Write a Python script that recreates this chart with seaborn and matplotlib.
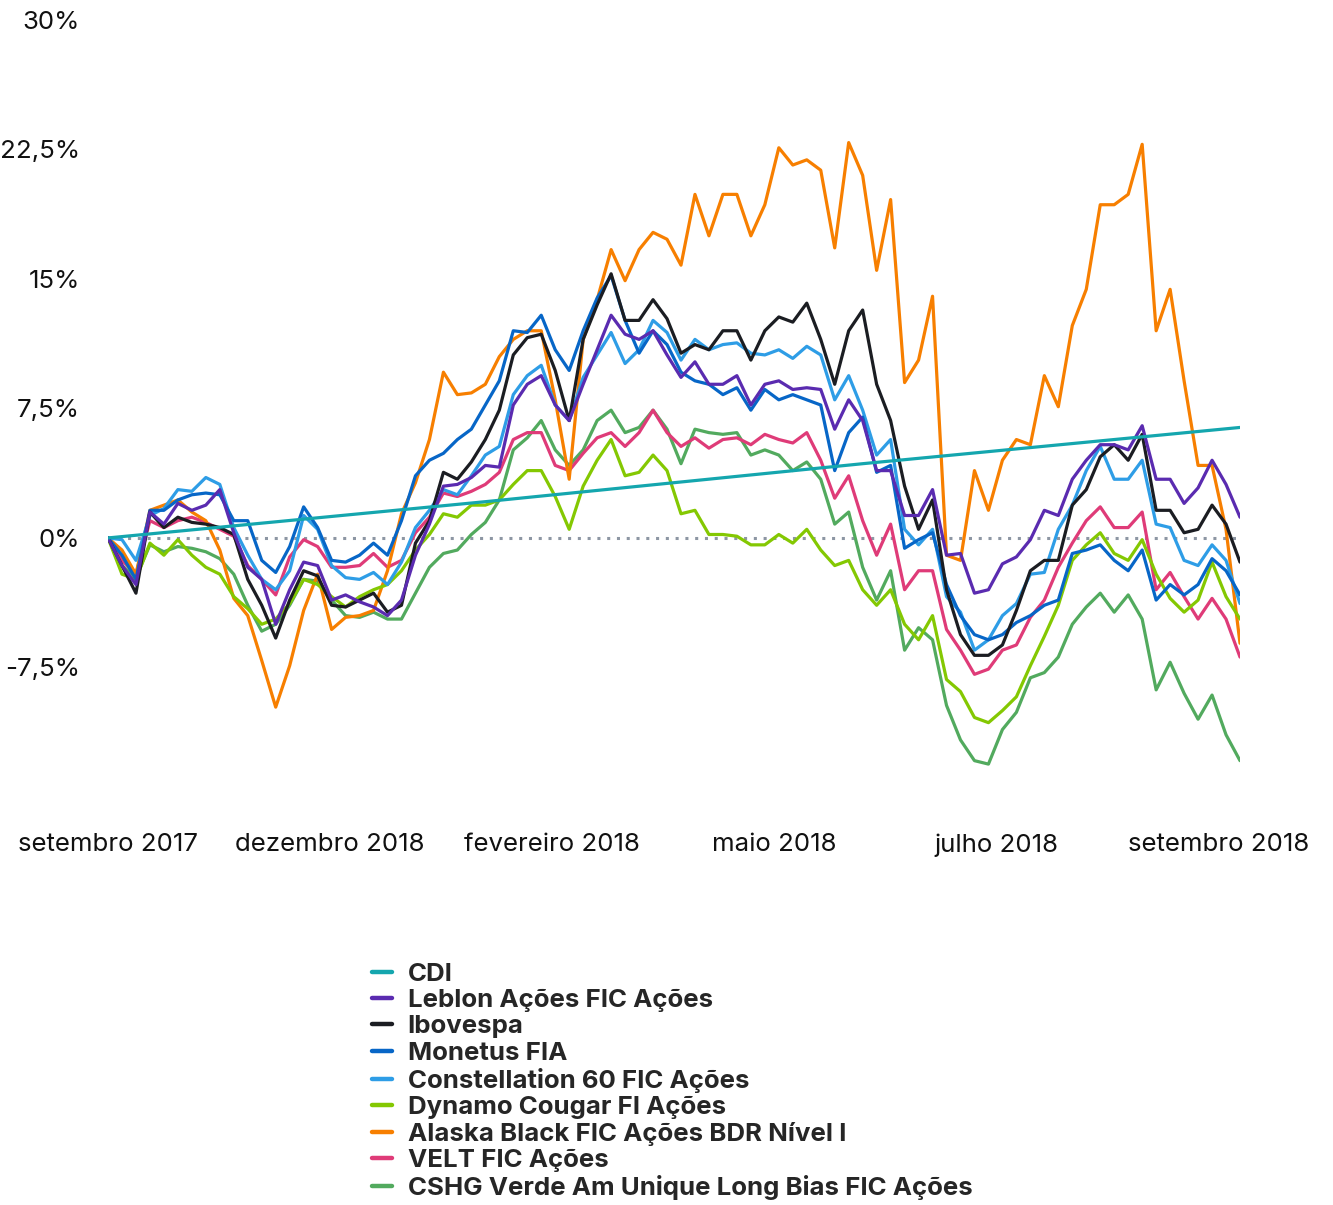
import numpy as np
import pandas as pd
import seaborn as sns
from matplotlib import pyplot as plt
from matplotlib.lines import Line2D

sns.set_theme(style='white')
plt.rcParams['font.family'] = ['Inter', 'DejaVu Sans']

# retorno acumulado (%), um ponto a cada ~3 pregões, set/2017 -> set/2018
leblon = [0.0, -1.6, -2.7, 1.5, 0.8, 2.0, 1.6, 1.9, 2.8, 0.3,
          -1.7, -2.4, -5.0, -3.0, -1.4, -1.6, -3.6, -3.3, -3.7, -4.0,
          -4.5, -3.6, -1.0, 0.8, 3.0, 3.1, 3.5, 4.2, 4.1, 7.7,
          8.9, 9.4, 7.7, 6.8, 8.9, 10.9, 12.9, 11.8, 11.5, 12.0,
          10.6, 9.3, 10.2, 8.9, 8.9, 9.4, 7.7, 8.9, 9.1, 8.6,
          8.7, 8.6, 6.3, 8.0, 6.8, 3.9, 3.9, 1.3, 1.3, 2.8,
          -1.0, -0.9, -3.2, -3.0, -1.5, -1.1, -0.1, 1.6, 1.3, 3.4,
          4.5, 5.4, 5.4, 5.1, 6.5, 3.4, 3.4, 2.0, 2.9, 4.5,
          3.1, 1.2]
ibovespa = [0.0, -1.6, -3.2, 1.5, 0.6, 1.2, 0.9, 0.8, 0.6, 0.2,
            -2.4, -3.9, -5.8, -3.6, -1.9, -2.2, -3.9, -4.0, -3.6, -3.2,
            -4.3, -3.9, -0.3, 1.0, 3.8, 3.4, 4.4, 5.7, 7.4, 10.6,
            11.6, 11.8, 9.7, 6.8, 11.5, 13.5, 15.3, 12.6, 12.6, 13.8,
            12.7, 10.7, 11.2, 10.9, 12.0, 12.0, 10.3, 12.0, 12.8, 12.5,
            13.6, 11.5, 8.9, 12.0, 13.2, 8.9, 6.8, 3.0, 0.5, 2.2,
            -3.0, -5.6, -6.8, -6.8, -6.2, -4.2, -1.9, -1.3, -1.3, 1.9,
            2.8, 4.7, 5.4, 4.5, 6.0, 1.6, 1.6, 0.3, 0.5, 1.9,
            0.8, -1.4]
monetus = [0.0, -1.0, -2.4, 1.6, 1.6, 2.2, 2.5, 2.6, 2.5, 1.0,
           1.0, -1.3, -2.0, -0.5, 1.8, 0.6, -1.3, -1.4, -1.0, -0.3,
           -1.0, 1.0, 3.6, 4.5, 4.9, 5.7, 6.3, 7.7, 9.1, 12.0,
           11.9, 12.9, 10.9, 9.7, 12.0, 13.9, 15.2, 12.6, 10.7, 12.0,
           11.2, 9.6, 9.1, 8.9, 8.3, 8.7, 7.4, 8.6, 8.0, 8.3,
           8.0, 7.7, 3.9, 6.1, 7.0, 3.8, 4.2, -0.6, -0.1, 0.3,
           -2.7, -4.5, -5.6, -5.9, -5.6, -4.9, -4.5, -3.9, -3.6, -0.9,
           -0.7, -0.4, -1.3, -1.9, -0.7, -3.6, -2.7, -3.3, -2.7, -1.2,
           -1.9, -3.3]
constellation = [0.0, -0.1, -1.3, 1.3, 1.7, 2.8, 2.7, 3.5, 3.1, 0.6,
                 -1.0, -2.4, -3.0, -1.9, 1.3, 0.5, -1.6, -2.3, -2.4, -2.0,
                 -2.7, -1.4, 0.6, 1.6, 2.8, 2.5, 3.6, 4.8, 5.3, 8.3,
                 9.4, 10.0, 7.7, 6.8, 9.3, 10.6, 11.9, 10.1, 10.9, 12.6,
                 11.9, 10.3, 11.5, 10.9, 11.2, 11.3, 10.7, 10.6, 10.9, 10.4,
                 11.1, 10.6, 8.0, 9.4, 7.4, 4.8, 5.7, 0.5, -0.4, 0.5,
                 -3.4, -4.3, -6.5, -5.9, -4.5, -3.8, -2.1, -2.0, 0.5, 1.9,
                 3.9, 5.3, 3.4, 3.4, 4.5, 0.8, 0.6, -1.3, -1.6, -0.4,
                 -1.3, -3.8]
dynamo = [0.0, -2.1, -2.4, -0.3, -1.0, -0.1, -1.0, -1.7, -2.1, -3.4,
          -4.1, -5.0, -4.7, -3.8, -2.4, -2.7, -3.4, -4.0, -3.4, -3.0,
          -2.7, -1.9, -0.7, 0.2, 1.4, 1.2, 1.9, 1.9, 2.2, 3.1,
          3.9, 3.9, 2.4, 0.5, 3.0, 4.5, 5.7, 3.6, 3.8, 4.8,
          3.9, 1.4, 1.6, 0.2, 0.2, 0.1, -0.4, -0.4, 0.2, -0.3,
          0.5, -0.7, -1.6, -1.3, -3.0, -3.9, -3.0, -5.0, -5.9, -4.5,
          -8.2, -8.9, -10.4, -10.7, -10.0, -9.2, -7.4, -5.7, -3.9, -1.3,
          -0.4, 0.3, -0.9, -1.3, -0.1, -2.1, -3.5, -4.3, -3.6, -1.4,
          -3.4, -4.7]
alaska = [0.0, -0.7, -2.1, 1.6, 1.9, 2.2, 1.5, 1.0, -0.7, -3.5,
          -4.5, -7.1, -9.8, -7.4, -4.2, -2.1, -5.3, -4.6, -4.5, -4.2,
          -1.9, 1.4, 3.2, 5.7, 9.6, 8.3, 8.4, 8.9, 10.5, 11.5,
          12.0, 12.0, 8.0, 3.4, 11.5, 13.8, 16.7, 14.9, 16.7, 17.7,
          17.3, 15.8, 19.9, 17.5, 19.9, 19.9, 17.5, 19.3, 22.6, 21.6,
          21.9, 21.3, 16.8, 22.9, 21.0, 15.5, 19.6, 9.0, 10.3, 14.0,
          -1.0, -1.3, 3.9, 1.6, 4.5, 5.7, 5.4, 9.4, 7.6, 12.3,
          14.4, 19.3, 19.3, 19.9, 22.8, 12.0, 14.4, 9.1, 4.2, 4.2,
          0.5, -6.1]
velt = [0.0, -1.3, -2.1, 1.0, 0.6, 1.0, 1.2, 0.9, 0.5, 0.1,
        -1.6, -2.4, -3.3, -1.1, -0.1, -0.5, -1.7, -1.7, -1.6, -0.9,
        -1.7, -1.3, 0.3, 1.2, 2.6, 2.4, 2.7, 3.1, 3.8, 5.7,
        6.1, 6.1, 4.2, 3.9, 4.9, 5.8, 6.1, 5.3, 6.1, 7.4,
        6.1, 5.3, 5.8, 5.2, 5.7, 5.8, 5.4, 6.0, 5.7, 5.5,
        6.1, 4.5, 2.3, 3.6, 1.0, -1.0, 0.8, -3.0, -1.9, -1.9,
        -5.3, -6.5, -7.9, -7.6, -6.5, -6.2, -4.6, -3.6, -1.7, -0.3,
        1.0, 1.8, 0.6, 0.6, 1.5, -3.0, -2.0, -3.4, -4.7, -3.5,
        -4.7, -6.9]
cshg = [0.0, -1.6, -2.3, -0.4, -0.8, -0.5, -0.6, -0.8, -1.2, -2.1,
        -3.9, -5.4, -5.0, -3.9, -2.4, -2.5, -3.6, -4.5, -4.6, -4.3,
        -4.7, -4.7, -3.2, -1.7, -0.9, -0.7, 0.2, 0.9, 2.2, 5.1,
        5.8, 6.8, 5.1, 4.2, 5.1, 6.8, 7.4, 6.1, 6.4, 7.4,
        6.3, 4.3, 6.3, 6.1, 6.0, 6.1, 4.8, 5.1, 4.8, 3.9,
        4.4, 3.4, 0.8, 1.5, -1.7, -3.6, -1.9, -6.5, -5.2, -5.9,
        -9.7, -11.7, -12.9, -13.1, -11.1, -10.1, -8.1, -7.8, -6.9, -5.0,
        -4.0, -3.2, -4.3, -3.3, -4.7, -8.8, -7.2, -9.0, -10.5, -9.1,
        -11.4, -12.9]
# CDI: linha praticamente reta
cdi_dias = [0, 27, 54, 81]
cdi = [0.0, 2.1, 4.3, 6.4]

nomes = ['CDI', 'Leblon Ações FIC Ações', 'Ibovespa', 'Monetus FIA',
         'Constellation 60 FIC Ações', 'Dynamo Cougar FI Ações',
         'Alaska Black FIC Ações BDR Nível I', 'VELT FIC Ações',
         'CSHG Verde Am Unique Long Bias FIC Ações']
cores = ['#14a6ae', '#5a2bb0', '#1b1d22', '#0766c7', '#2e9de6',
         '#84c802', '#f77f00', '#df3b78', '#52aa5e']

xticks_pos = [0, 15.9, 31.8, 47.7, 63.6, 79.5]
xticks_lab = ['setembro 2017', 'dezembro 2018', 'fevereiro 2018',
              'maio 2018', 'julho 2018', 'setembro 2018']
yticks_pos = [-7.5, 0, 7.5, 15, 22.5, 30]
yticks_lab = ['-7,5%', '0%', '7,5%', '15%', '22,5%', '30%']

valores = [cdi, leblon, ibovespa, monetus, constellation, dynamo, alaska, velt, cshg]
frames = []
for nome, vals in zip(nomes, valores):
    dias = cdi_dias if nome == 'CDI' else np.arange(len(vals))
    frames.append(pd.DataFrame({'dia': dias, 'retorno': vals, 'fundo': nome}))
df = pd.concat(frames, ignore_index=True)

fig = plt.figure(figsize=(13.33, 12.05), dpi=100)
ax = fig.add_axes([108/1333, 1 - 790/1205, 1132/1333, 770/1205])

ax.axhline(0, color='#8d96a3', ls=(0, (1, 2.2)), lw=2.2, zorder=0)

# desenha de trás pra frente para o CDI ficar por cima
sns.lineplot(data=df, x='dia', y='retorno', hue='fundo', hue_order=nomes[::-1],
             palette=dict(zip(nomes, cores)), linewidth=2.3, estimator=None,
             sort=False, legend=False, ax=ax)

ax.set_xlim(0, 81)
ax.set_ylim(-14.6, 30)
ax.set_xticks(xticks_pos)
ax.set_xticklabels(xticks_lab, fontsize=18.6, color='#111111')
ax.set_yticks(yticks_pos)
ax.set_yticklabels(yticks_lab, fontsize=18.6, color='#111111')
ax.tick_params(axis='x', length=0, pad=31)
ax.tick_params(axis='y', length=0, pad=20)
ax.set_xlabel('')
ax.set_ylabel('')
for s in ax.spines.values():
    s.set_visible(False)

handles = [Line2D([0], [0], color=c, lw=3.2) for c in cores]
fig.legend(handles, nomes, loc='upper left', bbox_to_anchor=(359/1333, 1 - 950/1205),
           frameon=False, borderpad=0, labelspacing=0.12, handlelength=0.78,
           handletextpad=0.6, prop={'weight': 'bold', 'size': 18.6})

fig.savefig('out.png', dpi=100, facecolor='white')
